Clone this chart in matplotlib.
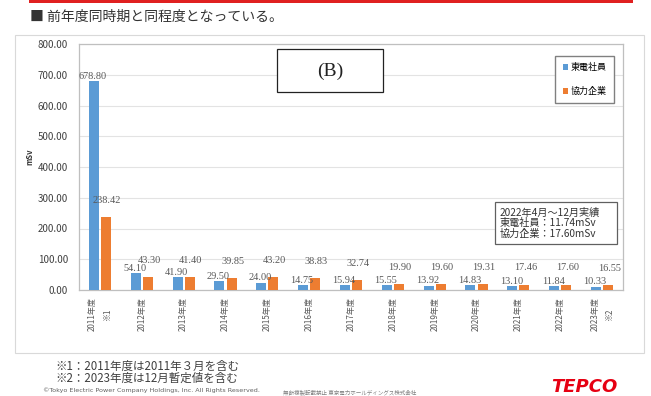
import numpy as np
import matplotlib.pyplot as plt
from matplotlib.patches import Rectangle

plt.rcParams['font.family'] = ['Noto Sans CJK JP', 'DejaVu Sans']
plt.rcParams['axes.unicode_minus'] = False

# data
years = ['2011年度\n※1', '2012年度', '2013年度', '2014年度', '2015年度', '2016年度',
         '2017年度', '2018年度', '2019年度', '2020年度', '2021年度', '2022年度', '2023年度\n※2']
tepco = [678.80, 54.10, 41.90, 29.50, 24.00, 14.75, 15.94, 15.55, 13.92, 14.83, 13.10, 11.84, 10.33]
partner = [238.42, 43.30, 41.40, 39.85, 43.20, 38.83, 32.74, 19.90, 19.60, 19.31, 17.46, 17.60, 16.55]
series_names = ['東電社員', '協力企業']
yticks = [0, 100, 200, 300, 400, 500, 600, 700, 800]

blue = '#5b9bd5'
orange = '#ed7d31'
W, H = 651, 396

fig = plt.figure(figsize=(W / 100, H / 100), dpi=100)

def fx(px):
    return px / W

def fy(py):
    return 1 - py / H

# red rule and heading
fig.patches.append(Rectangle((fx(29), fy(3)), fx(633) - fx(29), 3 / H, transform=fig.transFigure,
                             facecolor='#e02020', edgecolor='none'))
fig.text(fx(30), fy(17), '■ 前年度同時期と同程度となっている。', fontsize=10, color='#333333',
         va='center', ha='left')

# chart panel
fig.patches.append(Rectangle((fx(15), fy(353)), fx(644) - fx(15), (353 - 35) / H, transform=fig.transFigure,
                             facecolor='white', edgecolor='#d9d9d9', lw=0.8, zorder=-1))

ax = fig.add_axes([fx(79), fy(290), fx(623) - fx(79), (290 - 44) / H], zorder=1)
x = np.arange(len(years))
bw = 0.24
b1 = ax.bar(x - 0.145, tepco, bw, color=blue, zorder=3, label=series_names[0])
b2 = ax.bar(x + 0.145, partner, bw, color=orange, zorder=3, label=series_names[1])

# value labels: employee labels just above the bar, contractor labels lifted higher
for xi, v in zip(x, tepco):
    ax.annotate(f'{v:.2f}', (xi - 0.17, v), xytext=(0, 3.5), textcoords='offset points',
                ha='center', va='center', fontsize=7.4, color='#595959', family='Liberation Serif', zorder=4)
for xi, v in zip(x, partner):
    ax.annotate(f'{v:.2f}', (xi + 0.17, v), xytext=(0, 12), textcoords='offset points',
                ha='center', va='center', fontsize=7.4, color='#595959', family='Liberation Serif', zorder=4)

ax.set_xlim(-0.5, len(years) - 0.5)
ax.set_ylim(0, 800)
ax.set_yticks(yticks)
ax.set_yticklabels([f'{t:.2f}' for t in yticks], fontsize=7, color='#404040')
ax.set_xticks(x)
ax.set_xticklabels(years, rotation=90, fontsize=5.8, color='#595959', va='top', ha='center',
                   multialignment='center', linespacing=1.8)
ax.tick_params(axis='both', length=0)
ax.tick_params(axis='y', pad=8)
ax.tick_params(axis='x', pad=5)
ax.grid(axis='y', color='#e3e3e3', lw=0.8, zorder=0)
for s in ax.spines.values():
    s.set_color('#bfbfbf')
    s.set_linewidth(0.9)

fig.text(fx(30), fy(157), 'mSv', rotation=90, fontsize=5.5, fontweight='bold', color='#333333',
         ha='center', va='center')

# legend
leg = fig.legend(handles=[b1, b2], labels=series_names, loc='upper right',
                 bbox_to_anchor=(fx(614), fy(56)), fontsize=6.5, frameon=True, fancybox=False,
                 edgecolor='#808080', handlelength=0.6, handleheight=0.6, handletextpad=0.3,
                 labelspacing=1.6, borderpad=0.8, borderaxespad=0, framealpha=1)
leg.set_zorder(5)

# (B) box
fig.patches.append(Rectangle((fx(277), fy(92)), fx(383) - fx(277), (92 - 49) / H, transform=fig.transFigure,
                             facecolor='white', edgecolor='#222222', lw=0.9, zorder=5))
fig.text(fx(330), fy(71), '(B)', fontsize=14, family='Liberation Serif', ha='center', va='center',
         color='#222222', zorder=6)

# note box
fig.patches.append(Rectangle((fx(495), fy(244)), fx(617) - fx(495), (244 - 202) / H, transform=fig.transFigure,
                             facecolor='white', edgecolor='#606060', lw=0.9, zorder=5))
fig.text(fx(500), fy(223), '2022年4月～12月実績\n東電社員：11.74mSv\n協力企業：17.60mSv',
         fontsize=7.3, ha='left', va='center', linespacing=1.05, color='#333333', zorder=6)

# footnotes
fig.text(fx(55), fy(366), '※1：2011年度は2011年３月を含む', fontsize=8.3, color='#404040', va='center')
fig.text(fx(55), fy(378), '※2：2023年度は12月暫定値を含む', fontsize=8.3, color='#404040', va='center')
fig.text(fx(43), fy(390), '©Tokyo Electric Power Company Holdings, Inc. All Rights Reserved.',
         fontsize=4.6, color='#606060', va='center', family='DejaVu Sans')
fig.text(fx(283), fy(392), '無断複製転載禁止 東京電力ホールディングス株式会社', fontsize=4,
         color='#808080', va='center')
fig.text(fx(584), fy(387), 'TEPCO', fontsize=13, fontweight='heavy', fontstyle='italic',
         color='#e60012', ha='center', va='center', family='DejaVu Sans')

plt.savefig('out.png', dpi=100)
